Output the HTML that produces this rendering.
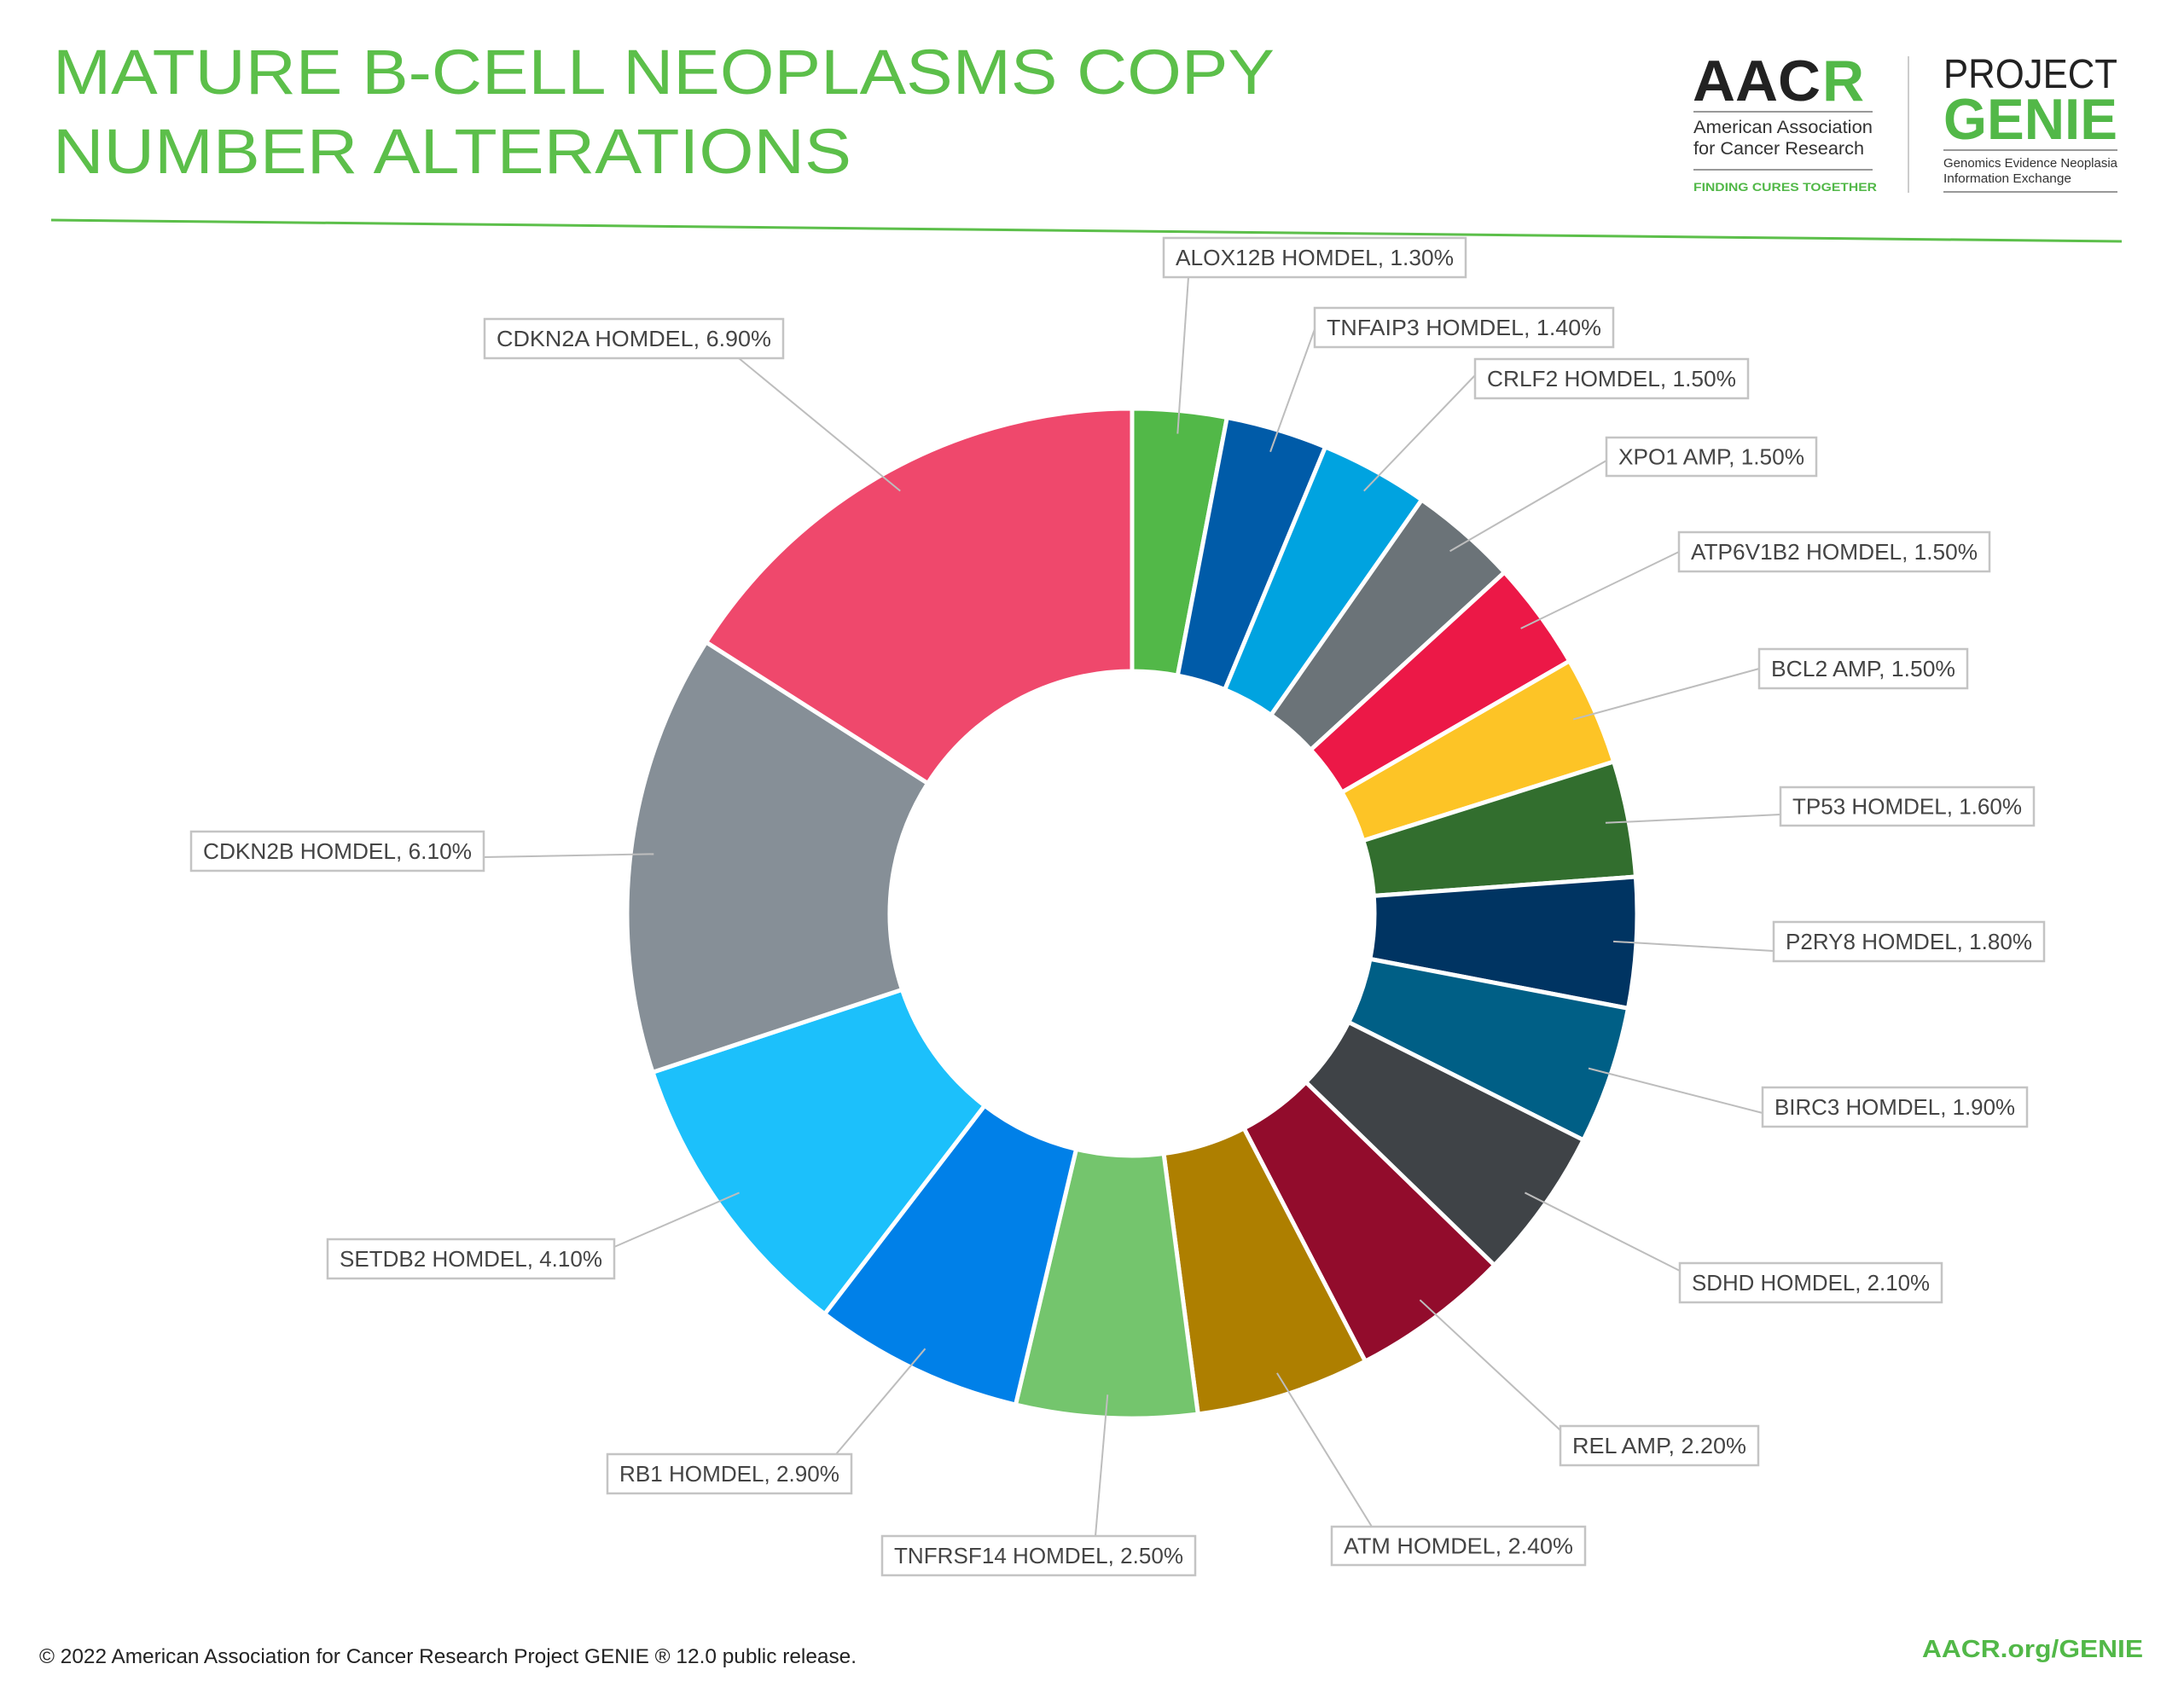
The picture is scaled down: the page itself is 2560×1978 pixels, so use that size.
<!DOCTYPE html>
<html><head><meta charset="utf-8"><style>
html,body{margin:0;padding:0;background:#fff;}
svg{display:block;}
</style></head><body>
<svg id="s" width="2560" height="1978" viewBox="0 0 2560 1978" xmlns="http://www.w3.org/2000/svg" font-family="'Liberation Sans', sans-serif">
<text x="62" y="110" font-size="74" fill="#5cbf4a" textLength="1432" lengthAdjust="spacingAndGlyphs">MATURE B-CELL NEOPLASMS COPY</text>
<text x="62" y="203" font-size="74" fill="#5cbf4a" textLength="936" lengthAdjust="spacingAndGlyphs">NUMBER ALTERATIONS</text>
<line x1="60" y1="258" x2="2487" y2="283" stroke="#5cbf4a" stroke-width="3"/>
<text x="1984" y="118" font-size="68" font-weight="bold" fill="#222" textLength="150" lengthAdjust="spacingAndGlyphs">AAC</text>
<text x="2136" y="118" font-size="68" font-weight="bold" fill="#52b848">R</text>
<line x1="1985" y1="131" x2="2195" y2="131" stroke="#999" stroke-width="2"/>
<text x="1985" y="156" font-size="21" fill="#333" textLength="210" lengthAdjust="spacingAndGlyphs">American Association</text>
<text x="1985" y="181" font-size="21" fill="#333" textLength="200" lengthAdjust="spacingAndGlyphs">for Cancer Research</text>
<line x1="1985" y1="199" x2="2195" y2="199" stroke="#999" stroke-width="2"/>
<text x="1985" y="224" font-size="14" font-weight="bold" fill="#52b848" textLength="215" lengthAdjust="spacingAndGlyphs">FINDING CURES TOGETHER</text>
<line x1="2237" y1="66" x2="2237" y2="226" stroke="#ccc" stroke-width="2"/>
<text x="2278" y="103" font-size="48" fill="#222" textLength="204" lengthAdjust="spacingAndGlyphs">PROJECT</text>
<text x="2278" y="163" font-size="68" font-weight="bold" fill="#52b848" textLength="204" lengthAdjust="spacingAndGlyphs">GENIE</text>
<line x1="2278" y1="176" x2="2482" y2="176" stroke="#999" stroke-width="2"/>
<text x="2278" y="196" font-size="15" fill="#333" textLength="204" lengthAdjust="spacingAndGlyphs">Genomics Evidence Neoplasia</text>
<text x="2278" y="214" font-size="15" fill="#333" textLength="150" lengthAdjust="spacingAndGlyphs">Information Exchange</text>
<line x1="2278" y1="225" x2="2482" y2="225" stroke="#999" stroke-width="2"/>
<g id="pie"></g>
<g id="lab"></g>
<text x="46" y="1950" font-size="24" fill="#222" textLength="958" lengthAdjust="spacingAndGlyphs">© 2022 American Association for Cancer Research Project GENIE ® 12.0 public release.</text>
<text x="2253" y="1943" font-size="29" font-weight="bold" fill="#52b848" textLength="259" lengthAdjust="spacingAndGlyphs">AACR.org/GENIE</text>
</svg>
<script>
var cx=1327,cy=1071,R=592,r=284;
var d=[
["ALOX12B HOMDEL, 1.30%",1.3,"#52b848",[1364,279,1718,325],[1393,325]],
["TNFAIP3 HOMDEL, 1.40%",1.4,"#005ba8",[1541,361,1891,407],[1541,386]],
["CRLF2 HOMDEL, 1.50%",1.5,"#00a3e0",[1729,421,2049,467],[1729,440]],
["XPO1 AMP, 1.50%",1.5,"#6b7378",[1883,513,2129,558],[1883,540]],
["ATP6V1B2 HOMDEL, 1.50%",1.5,"#ec1847",[1968,624,2332,670],[1968,647]],
["BCL2 AMP, 1.50%",1.5,"#fdc426",[2062,761,2306,807],[2062,784]],
["TP53 HOMDEL, 1.60%",1.6,"#326e2e",[2087,923,2384,968],[2087,955]],
["P2RY8 HOMDEL, 1.80%",1.8,"#003462",[2079,1081,2396,1127],[2079,1115]],
["BIRC3 HOMDEL, 1.90%",1.9,"#005f86",[2066,1275,2376,1321],[2066,1305]],
["SDHD HOMDEL, 2.10%",2.1,"#3f4347",[1969,1481,2276,1527],[1969,1490]],
["REL AMP, 2.20%",2.2,"#920c2c",[1829,1672,2061,1718],[1829,1677]],
["ATM HOMDEL, 2.40%",2.4,"#ae7f00",[1561,1790,1858,1835],[1608,1790]],
["TNFRSF14 HOMDEL, 2.50%",2.5,"#74c56d",[1034,1801,1401,1847],[1284,1801]],
["RB1 HOMDEL, 2.90%",2.9,"#0080e8",[712,1705,998,1751],[980,1705]],
["SETDB2 HOMDEL, 4.10%",4.1,"#1cc0fb",[384,1453,720,1499],[720,1462]],
["CDKN2B HOMDEL, 6.10%",6.1,"#868f97",[224,975,567,1021],[567,1005]],
["CDKN2A HOMDEL, 6.90%",6.9,"#ef486c",[568,374,918,420],[866,420]]];
var tot=0;d.forEach(function(e){tot+=e[1];});
var ns="http://www.w3.org/2000/svg",pie=document.getElementById("pie"),lab=document.getElementById("lab");
function pt(a,rr){return [cx+rr*Math.sin(a),cy-rr*Math.cos(a)];}
function el(n,at,p){var e=document.createElementNS(ns,n);for(var k in at)e.setAttribute(k,at[k]);p.appendChild(e);return e;}
var c=0;
d.forEach(function(e){
 var a0=c/tot*2*Math.PI;c+=e[1];var a1=c/tot*2*Math.PI;
 var p0=pt(a0,R),p1=pt(a1,R),q1=pt(a1,r),q0=pt(a0,r);var lg=(a1-a0)>Math.PI?1:0;
 el("path",{d:"M"+p0+"A"+R+","+R+" 0 "+lg+" 1 "+p1+"L"+q1+"A"+r+","+r+" 0 "+lg+" 0 "+q0+"Z",fill:e[2],stroke:"#fff","stroke-width":5,"stroke-linejoin":"miter"},pie);
 var m=pt((a0+a1)/2,565);
 el("line",{x1:e[4][0],y1:e[4][1],x2:m[0],y2:m[1],stroke:"#bdbdbd","stroke-width":2},lab);
 var b=e[3];
 el("rect",{x:b[0],y:b[1],width:b[2]-b[0],height:b[3]-b[1],fill:"#fff",stroke:"#c4c4c4","stroke-width":2.5},lab);
 var t=el("text",{x:b[0]+14,y:(b[1]+b[3])/2+9,"font-size":26,fill:"#444",textLength:(b[2]-b[0]-28),lengthAdjust:"spacingAndGlyphs"},lab);
 t.textContent=e[0];
});
</script>
</body></html>
